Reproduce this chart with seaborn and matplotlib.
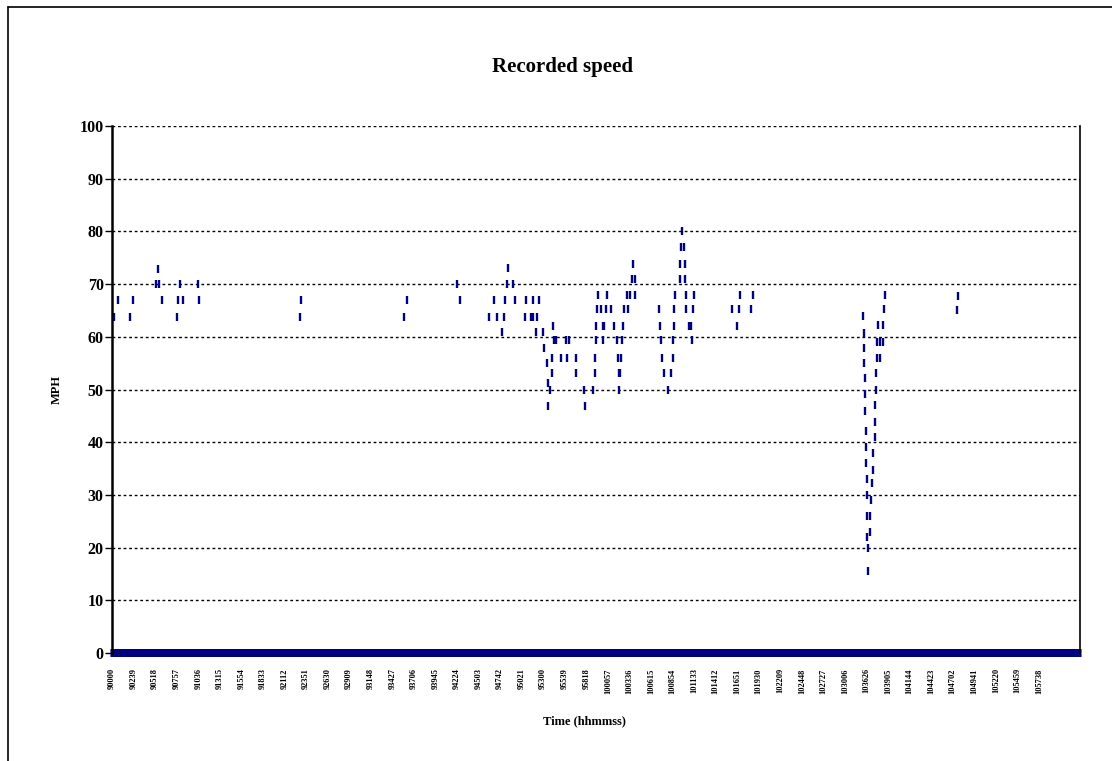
import numpy as np
import pandas as pd
import matplotlib
matplotlib.use("Agg")
import matplotlib.pyplot as plt
from matplotlib.lines import Line2D
import seaborn as sns

# ---------------- data ----------------
n_rows = 7140            # one recorded row per sample
tick_step = 159          # a category label every 159 rows
tick_labels = ["90000", "90239", "90518", "90757", "91036", "91315", "91554", "91833",
               "92112", "92351", "92630", "92909", "93148", "93427", "93706", "93945",
               "94224", "94503", "94742", "95021", "95300", "95539", "95818", "100057",
               "100336", "100615", "100854", "101133", "101412", "101651", "101930",
               "102209", "102448", "102727", "103006", "103626", "103905", "104144",
               "104423", "104702", "104941", "105220", "105459", "105738"]
y_ticks = [0, 10, 20, 30, 40, 50, 60, 70, 80, 90, 100]

# non-zero readings (row index, MPH); every other row recorded 0
early_rows = [17, 42, 135, 157, 325, 337, 349, 371, 480, 489, 502, 524, 632, 642,
              1387, 1397, 2153, 2177, 2546, 2568]
early_mph = [63.8, 66.9, 63.8, 66.9, 70.0, 72.9, 70.0, 66.9, 63.8, 66.9, 70.0, 66.9, 70.0, 66.9,
             63.8, 66.9, 63.8, 66.9, 70.0, 66.9]

mid_rows = [2780, 2817, 2839, 2876, 2888, 2900, 2910, 2922, 2959, 2969, 3043, 3053, 3087, 3102,
            3107, 3124, 3137, 3146, 3181, 3186, 3205, 3213, 3218, 3230, 3242, 3246, 3255, 3259,
            3277, 3311, 3348, 3358, 3370, 3419, 3423, 3478, 3491, 3550, 3559, 3563, 3567, 3572,
            3576, 3584, 3609, 3618, 3622, 3631, 3643, 3647, 3677, 3703, 3727, 3731, 3737, 3741,
            3749, 3753, 3762, 3766, 3774, 3796, 3808, 3821, 3832, 3845, 3855, 3859]
mid_mph = [63.8, 66.9, 63.8, 60.9, 63.8, 66.9, 70.0, 73.1, 70.0, 66.9, 63.8, 66.9, 63.8, 66.9,
           63.8, 60.9, 63.8, 66.9, 60.9, 57.9, 55.1, 46.9, 51.2, 50.0, 53.1, 56.0, 62.1, 59.4,
           59.4, 56.0, 59.4, 56.0, 59.4, 56.0, 53.1, 50.0, 46.9, 50.0, 53.1, 56.0, 59.4, 62.1,
           65.2, 67.9, 65.2, 62.1, 59.4, 62.1, 65.2, 67.9, 65.2, 62.1, 59.4, 56.0, 53.1, 50.0,
           53.1, 56.0, 59.4, 62.1, 65.2, 67.9, 65.2, 67.9, 71.0, 73.9, 71.0, 67.9]

peak_rows = [4032, 4044, 4048, 4057, 4069, 4103, 4122, 4134, 4138, 4142, 4146, 4152, 4188, 4192,
             4200, 4204, 4219, 4224, 4228, 4233, 4237, 4256, 4271, 4275, 4288, 4293,
             4576, 4610, 4622, 4635, 4716, 4728]
peak_mph = [65.2, 62.1, 59.4, 56.0, 53.1, 50.0, 53.1, 56.0, 59.4, 62.1, 65.2, 67.9, 71.0, 73.9,
            77.1, 80.1, 77.1, 73.9, 71.0, 67.9, 65.2, 62.1, 62.1, 59.4, 65.2, 67.9,
            65.2, 62.1, 65.2, 67.9, 65.2, 67.9]

dip_rows = [5540, 5543, 5546, 5549, 5552, 5555, 5557, 5559, 5561, 5563, 5565, 5567, 5569, 5571,
            5575, 5579, 5588, 5592, 5600, 5602, 5612, 5614, 5624, 5626, 5628, 5636, 5638, 5640,
            5642, 5650, 5662, 5664, 5685, 5688, 5695, 5698, 6229, 6241]
dip_mph = [63.9, 60.8, 57.8, 55.1, 52.1, 49.1, 46.0, 42.1, 39.1, 36.0, 33.0, 30.0, 26.0, 22.1,
           19.9, 15.6, 23.0, 26.0, 29.0, 32.2, 34.8, 37.9, 40.9, 43.9, 47.0, 50.0, 53.1, 56.0,
           59.1, 62.2, 56.0, 59.1, 59.1, 62.2, 65.2, 67.9, 65.0, 67.8]

# ---------------- table ----------------
speed = np.zeros(n_rows)
for rows, vals in [(early_rows, early_mph), (mid_rows, mid_mph),
                   (peak_rows, peak_mph), (dip_rows, dip_mph)]:
    speed[rows] = vals
df = pd.DataFrame({"row": np.arange(n_rows), "mph": speed})

# ---------------- figure ----------------
sns.set_theme(style="white")
plt.rcParams["font.family"] = ["Liberation Serif", "DejaVu Serif"]
plt.rcParams["text.color"] = "black"
plt.rcParams["xtick.color"] = "black"
plt.rcParams["ytick.color"] = "black"
plt.rcParams["axes.labelcolor"] = "black"

W, H = 1112, 761
fig = plt.figure(figsize=(W / 100, H / 100), dpi=100)
fig.patch.set_facecolor("white")
ax = fig.add_axes([112 / W, 1 - 653 / H, (1080 - 112) / W, (653 - 126) / H])
ax.set_facecolor("white")

ax.yaxis.grid(True, linestyle=(0, (2, 2)), color="black", linewidth=1.0)
ax.xaxis.grid(False)
ax.set_axisbelow(True)

sns.scatterplot(data=df, x="row", y="mph", marker="|", s=34, color="#000080",
                linewidth=1.7, ax=ax, legend=False)
for coll in ax.collections:
    coll.set_clip_on(False)

ax.set_xlim(-0.5, n_rows - 0.5)
ax.set_ylim(0, 100)

ax.set_yticks(y_ticks)
ax.set_yticklabels([str(v) for v in y_ticks], fontsize=11.5, fontweight="bold", color="black")
ax.tick_params(axis="y", direction="out", length=5, width=1, color="black", pad=1, left=True)

ax.set_xticks(np.arange(len(tick_labels)) * tick_step)
ax.set_xticklabels(tick_labels, rotation=90, fontsize=6, fontweight="bold", color="black")
ax.tick_params(axis="x", length=0, pad=11)

ax.set_xlabel("")
ax.set_ylabel("")

for side in ["top", "bottom"]:
    ax.spines[side].set_visible(False)
ax.spines["left"].set_color("black")
ax.spines["left"].set_linewidth(1.8)
ax.spines["right"].set_color("black")
ax.spines["right"].set_linewidth(1.2)

fig.text(563 / W, 1 - 67 / H, "Recorded speed", ha="center", va="center",
         fontsize=15, fontweight="bold", color="black")
fig.text(584 / W, 1 - 721 / H, "Time (hhmmss)", ha="center", va="center",
         fontsize=9, fontweight="bold", color="black")
fig.text(57 / W, 1 - 390 / H, "MPH", ha="center", va="center", rotation=90,
         fontsize=9, fontweight="bold", color="black")

# outer chart-area frame (its right/bottom edges lie past the image)
fig.add_artist(Line2D([8 / W, 8 / W], [0, 1 - 7 / H], transform=fig.transFigure,
                      color="black", linewidth=1.2))
fig.add_artist(Line2D([8 / W, 1], [1 - 7 / H, 1 - 7 / H], transform=fig.transFigure,
                      color="black", linewidth=1.2))

fig.savefig("out.png", dpi=100, facecolor="white")
